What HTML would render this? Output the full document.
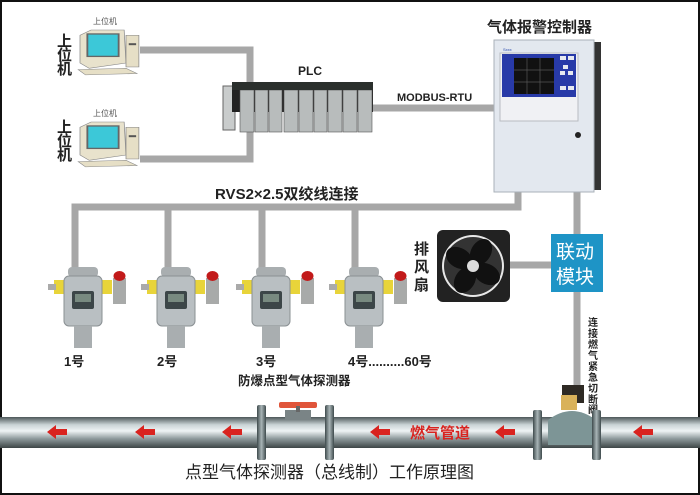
<!DOCTYPE html>
<html><head><meta charset="utf-8"><style>
html,body{margin:0;padding:0;background:#fff}
svg{display:block}
text{font-family:"Liberation Sans","Noto Sans CJK SC",sans-serif}
</style></head><body>
<svg width="700" height="495" viewBox="0 0 700 495" xmlns="http://www.w3.org/2000/svg">
<defs>
<linearGradient id="pipe" x1="0" y1="0" x2="0" y2="1">
<stop offset="0" stop-color="#4d5759"/><stop offset="0.25" stop-color="#c9d3d5"/><stop offset="0.45" stop-color="#eef3f4"/><stop offset="0.7" stop-color="#8e9a9c"/><stop offset="1" stop-color="#3d4546"/>
</linearGradient>
<linearGradient id="flg" x1="0" y1="0" x2="1" y2="0">
<stop offset="0" stop-color="#3e4a4c"/><stop offset="0.5" stop-color="#a9b5b7"/><stop offset="1" stop-color="#3e4a4c"/>
</linearGradient>
<g id="comp">
<path d="M0 8 L12 0 L48 0 L50 50 L10 58 L0 50Z" fill="#e8e2cc" stroke="#888" stroke-width="0.8"/>
<rect x="8" y="6" width="34" height="34" fill="#3cc8d8" stroke="#666" stroke-width="2"/>
<rect x="50" y="8" width="14" height="48" fill="#e6dfc6" stroke="#888" stroke-width="0.8"/>
<rect x="53" y="20" width="8" height="3" fill="#555"/>
<path d="M-2 60 L50 58 L62 66 L6 68Z" fill="#e6dfc6" stroke="#888" stroke-width="0.8"/>
</g>
<g id="det">
<rect x="12" y="16" width="58" height="14" fill="#e8d43a"/>
<rect x="26" y="3" width="30" height="10" rx="4" fill="#a9aeb0"/>
<rect x="22" y="12" width="38" height="50" rx="5" fill="#b9bfc2" stroke="#8a9093"/>
<rect x="30" y="27" width="22" height="18" rx="2" fill="#3c4648"/>
<rect x="33" y="30" width="16" height="8" fill="#788a80"/>
<rect x="32" y="62" width="18" height="22" fill="#a9aeb0"/>
<rect x="71" y="14" width="13" height="26" fill="#a8aaa9"/>
<ellipse cx="77.5" cy="12" rx="6" ry="5" fill="#c21a1a"/>
<rect x="6" y="20" width="8" height="6" fill="#aaa"/>
</g>
<g id="arr"><path d="M0 0 L9 -7 L9 -3 L20 -3 L20 3 L9 3 L9 7Z" fill="#d9231f"/></g>
</defs>
<rect x="0" y="0" width="700" height="495" fill="#fff"/>
<rect x="1" y="1" width="698" height="493" fill="none" stroke="#111" stroke-width="2"/>

<!-- connectors -->
<g stroke="#a7a7a7" stroke-width="7" fill="none">
<path d="M140 50 H250 V84"/>
<path d="M140 159 H250 V130"/>
<path d="M373 108 H496"/>
<path d="M75 268 V207 H518 V190"/>
<path d="M168 268 V207 M262 268 V207 M355 268 V207"/>
<path d="M577 190 V385"/>
<path d="M510 265 H551"/>
</g>

<!-- computers -->
<g transform="translate(80,30) scale(0.92,0.66)"><use href="#comp"/></g>
<g transform="translate(80,122) scale(0.92,0.66)"><use href="#comp"/></g>
<text x="93" y="24" font-size="8" fill="#555">上位机</text>
<text x="93" y="116" font-size="8" fill="#555">上位机</text>
<g font-size="15" font-weight="bold" fill="#222">
<text x="57" y="46">上</text><text x="57" y="60">位</text><text x="57" y="74">机</text>
<text x="57" y="132">上</text><text x="57" y="146">位</text><text x="57" y="160">机</text>
</g>

<!-- PLC -->
<text x="298" y="75" font-size="12" font-weight="bold" fill="#222">PLC</text>
<rect x="223" y="86" width="12" height="44" fill="#c9cccc" stroke="#666"/>
<rect x="232" y="82" width="141" height="30" fill="#222"/>
<g fill="#b8bcbc" stroke="#555" stroke-width="0.6">
<rect x="240" y="90" width="14" height="42"/><rect x="255" y="90" width="13" height="42"/><rect x="269" y="90" width="13" height="42"/>
<rect x="284" y="90" width="14" height="42"/><rect x="299" y="90" width="14" height="42"/><rect x="314" y="90" width="13" height="42"/>
<rect x="328" y="90" width="14" height="42"/><rect x="343" y="90" width="14" height="42"/><rect x="358" y="90" width="14" height="42"/>
</g>
<rect x="232" y="82" width="141" height="8" fill="#2a2f2c"/>
<text x="397" y="101" font-size="11" font-weight="bold" fill="#222">MODBUS-RTU</text>

<!-- controller -->
<text x="487" y="32" font-size="15" font-weight="bold" fill="#222">气体报警控制器</text>
<rect x="593" y="42" width="8" height="148" fill="#333"/>
<rect x="494" y="40" width="100" height="152" fill="#e3e8ef" stroke="#a9b1b8"/>
<rect x="500" y="53" width="78" height="68" fill="#f0f1f4" stroke="#b8bcc2"/>
<rect x="502" y="54" width="74" height="43" fill="#283aa8"/>
<rect x="514" y="58" width="40" height="36" fill="#111"/>
<path d="M527 58V94M540 58V94M514 70H554M514 82H554" stroke="#555" stroke-width="0.7"/>
<g fill="#e6e8f0"><rect x="560" y="56" width="6" height="4"/><rect x="568" y="56" width="6" height="4"/><rect x="563" y="65" width="5" height="4"/><rect x="560" y="71" width="5" height="4"/><rect x="568" y="71" width="5" height="4"/><rect x="560" y="86" width="6" height="4"/><rect x="568" y="86" width="6" height="4"/></g>
<circle cx="578" cy="135" r="3" fill="#222"/>
<text x="503" y="51" font-size="4" fill="#2a4ab0">Sxxx</text>

<text x="215" y="199" font-size="15" font-weight="bold" fill="#222">RVS2×2.5双绞线连接</text>

<!-- fan -->
<text x="414" y="254" font-size="15" font-weight="bold" fill="#222">排</text>
<text x="414" y="272" font-size="15" font-weight="bold" fill="#222">风</text>
<text x="414" y="290" font-size="15" font-weight="bold" fill="#222">扇</text>
<rect x="437" y="230" width="73" height="72" rx="6" fill="#222"/>
<circle cx="473" cy="266" r="31" fill="#e8e8e8"/>
<circle cx="473" cy="266" r="29" fill="#333"/>
<g fill="#111"><ellipse cx="473" cy="250" rx="10" ry="14" transform="rotate(30 473 266)"/><ellipse cx="473" cy="250" rx="10" ry="14" transform="rotate(120 473 266)"/><ellipse cx="473" cy="250" rx="10" ry="14" transform="rotate(210 473 266)"/><ellipse cx="473" cy="250" rx="10" ry="14" transform="rotate(300 473 266)"/></g>
<circle cx="473" cy="266" r="6" fill="#ddd"/>

<rect x="551" y="234" width="52" height="58" fill="#1e94c6"/>
<text x="556" y="258" font-size="19" fill="#fff">联动</text>
<text x="556" y="283" font-size="19" fill="#fff">模块</text>

<!-- detectors -->
<use href="#det" x="42" y="264"/>
<use href="#det" x="135" y="264"/>
<use href="#det" x="230" y="264"/>
<use href="#det" x="323" y="264"/>
<g font-size="13" font-weight="bold" fill="#222">
<text x="64" y="366">1号</text><text x="157" y="366">2号</text><text x="256" y="366">3号</text>
<text x="348" y="366">4号..........60号</text>
</g>
<text x="238" y="385" font-size="12.5" font-weight="bold" fill="#222">防爆点型气体探测器</text>

<!-- vertical label -->
<g font-size="10" font-weight="bold" fill="#222">
<text x="588" y="326">连</text><text x="588" y="337">接</text><text x="588" y="348">燃</text><text x="588" y="359">气</text><text x="588" y="370">紧</text><text x="588" y="381">急</text><text x="588" y="392">切</text><text x="588" y="403">断</text><text x="588" y="413">阀</text>
</g>

<!-- pipe -->
<rect x="0" y="417" width="700" height="31" fill="url(#pipe)"/>
<rect x="257" y="405" width="9" height="55" rx="2" fill="url(#flg)"/>
<rect x="325" y="405" width="9" height="55" rx="2" fill="url(#flg)"/>
<rect x="285" y="410" width="26" height="10" fill="#7a8486"/>
<rect x="279" y="402" width="38" height="6" rx="2" fill="#e0553a"/>
<rect x="296" y="406" width="4" height="6" fill="#666"/>
<!-- valve -->
<rect x="562" y="385" width="22" height="18" fill="#2e2a24"/>
<rect x="561" y="395" width="16" height="15" fill="#d9b25a"/>
<path d="M548 420 Q572 402 596 420 L596 445 L548 445Z" fill="#7d9596"/>
<rect x="533" y="410" width="9" height="50" rx="2" fill="url(#flg)"/>
<rect x="592" y="410" width="9" height="50" rx="2" fill="url(#flg)"/>

<use href="#arr" x="47" y="432"/>
<use href="#arr" x="135" y="432"/>
<use href="#arr" x="222" y="432"/>
<use href="#arr" x="370" y="432"/>
<use href="#arr" x="495" y="432"/>
<use href="#arr" x="633" y="432"/>
<text x="410" y="438" font-size="15" font-weight="bold" fill="#d9231f">燃气管道</text>

<text x="185" y="478" font-size="17" fill="#222">点型气体探测器（总线制）工作原理图</text>
</svg>
</body></html>
